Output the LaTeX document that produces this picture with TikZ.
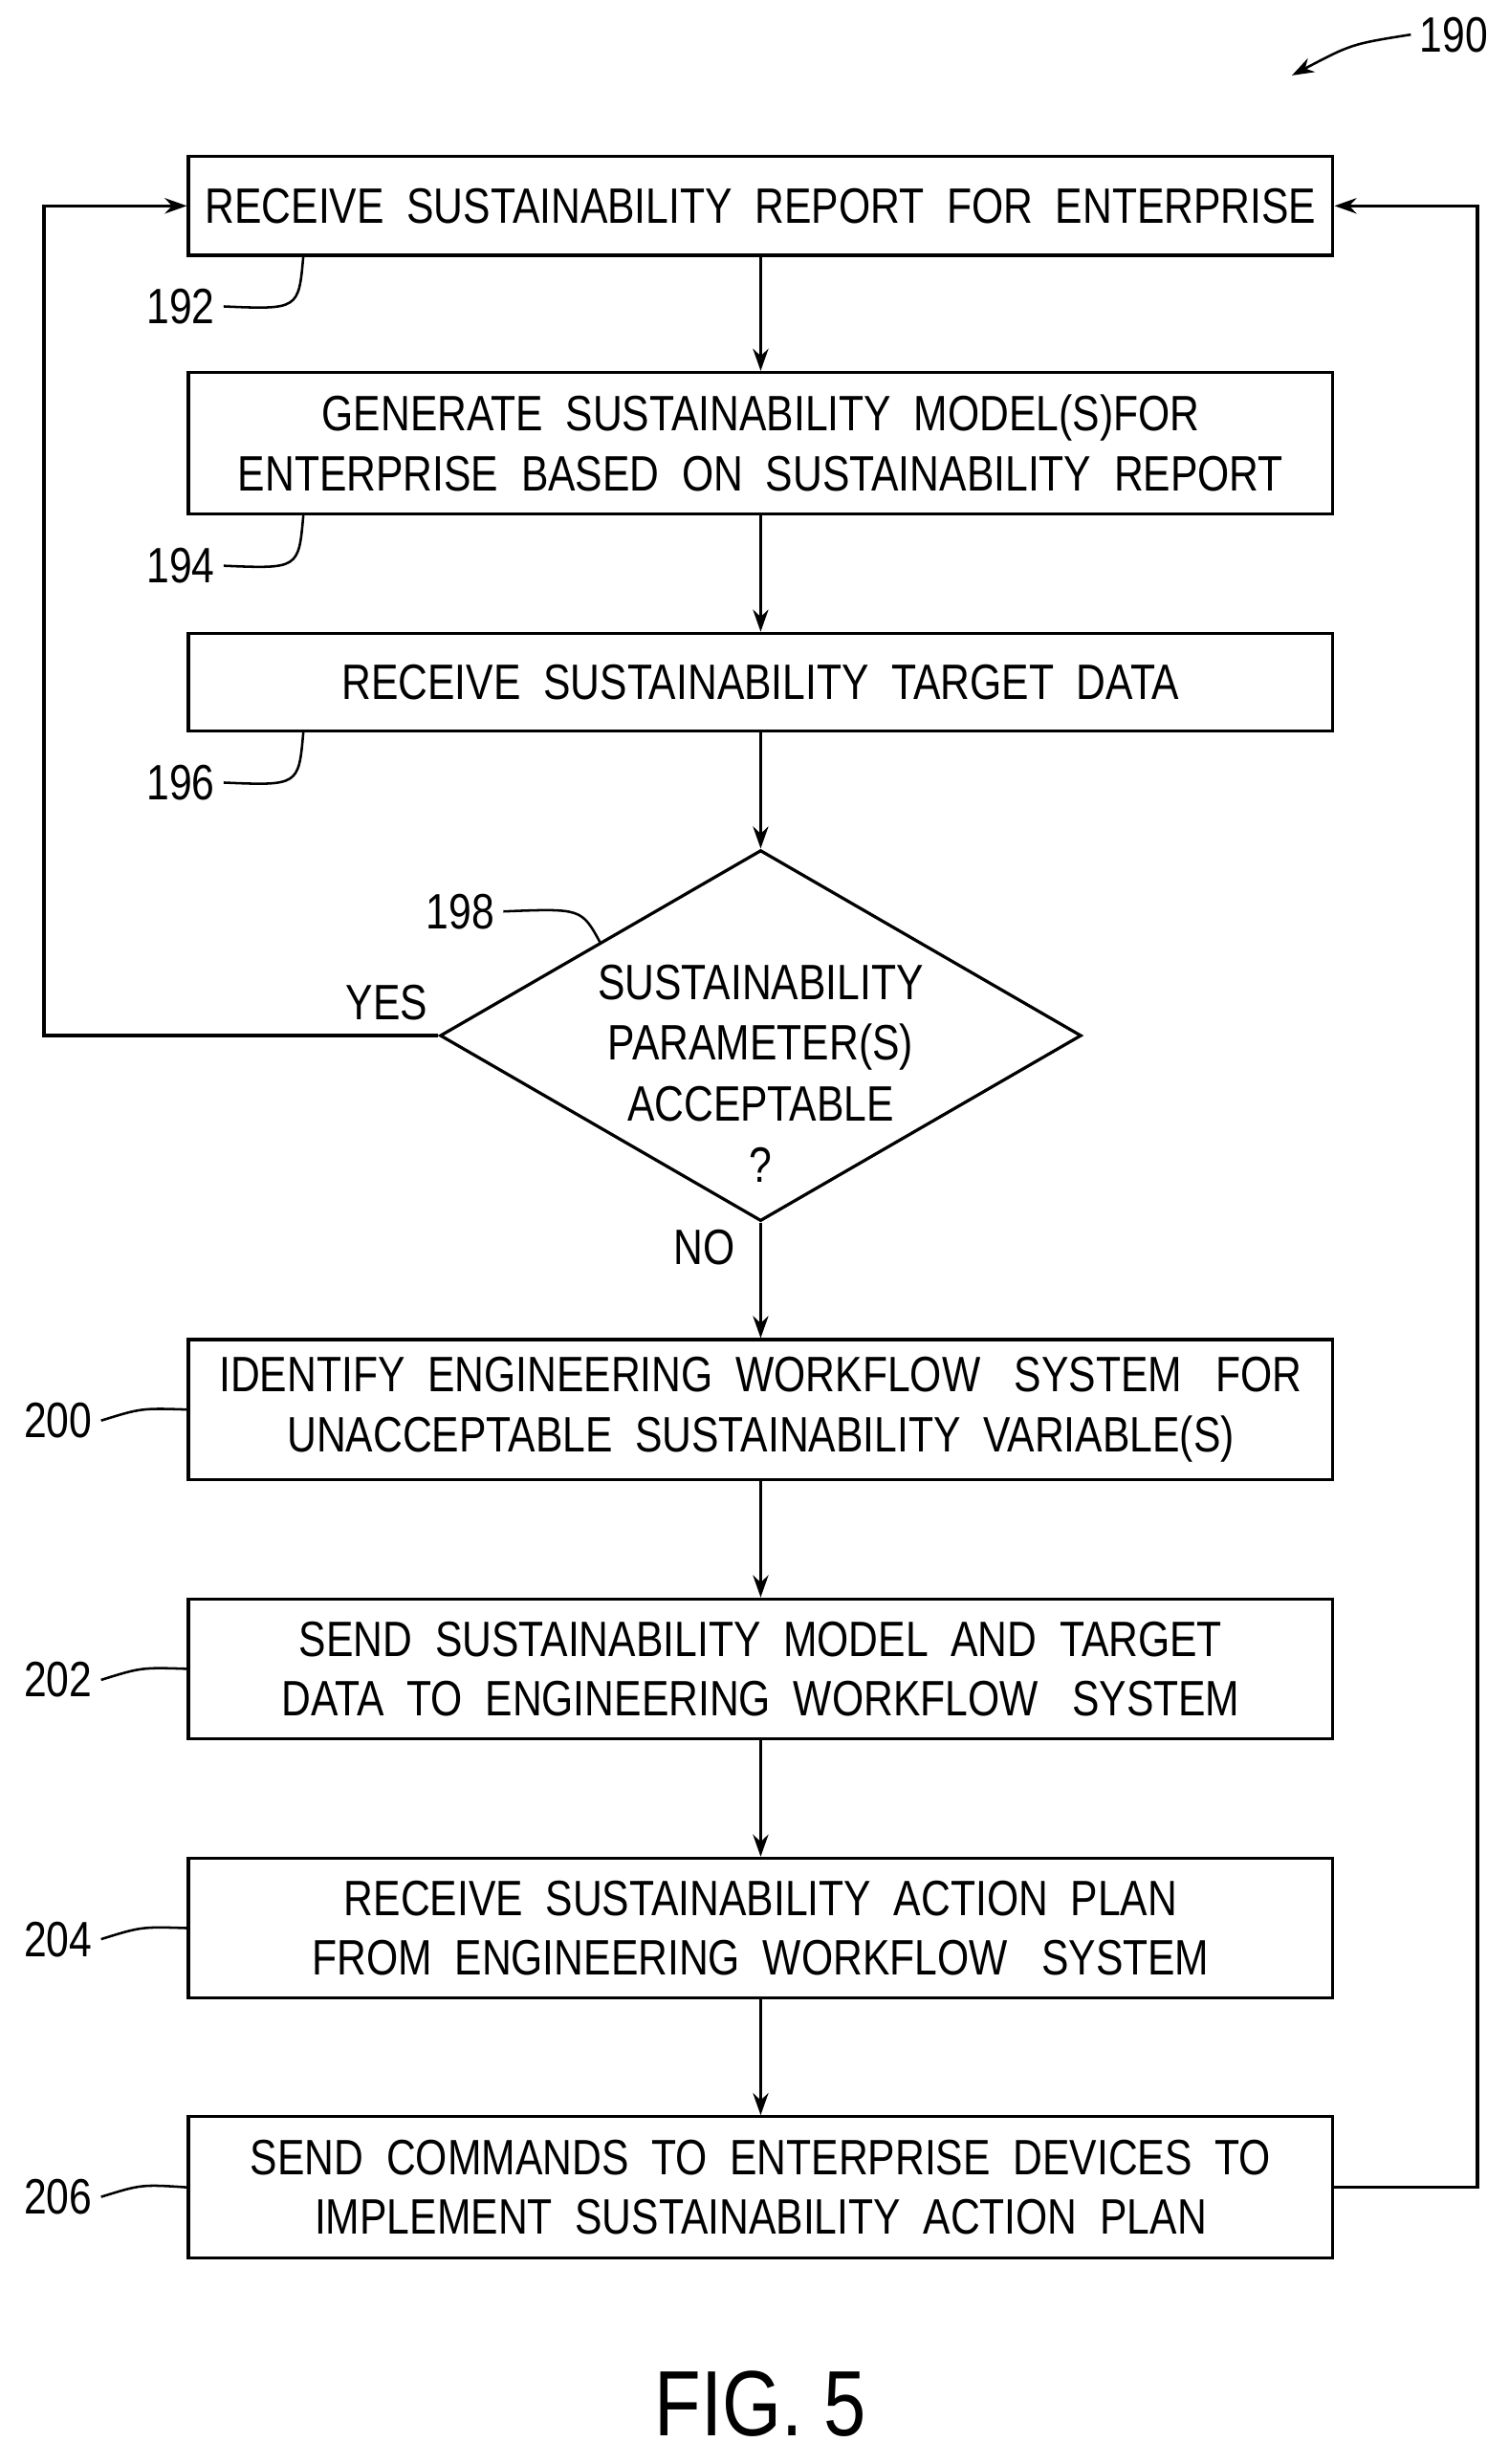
\documentclass[tikz,border=0pt]{standalone}
\usepackage{fontspec}
\setmainfont[FakeStretch=0.82]{Liberation Sans}
\usetikzlibrary{shapes.geometric,arrows.meta}
\begin{document}
\begin{tikzpicture}[x=0.025cm,y=-0.025cm,line width=1.4pt,>={Stealth[length=10pt,width=7pt]}]
	% Define styles for the steps and labels
	\tikzstyle{stepbox} = [draw, rectangle, minimum width=18.2cm, align=center, font=\fontsize{22.5}{27}\selectfont, inner sep=0pt]
	\tikzstyle{ref} = [font=\fontsize{22.5}{27}\selectfont]
	\useasboundingbox (0,0) rectangle (960,1568);

	% Define the steps
	\node[stepbox, minimum height=1.575cm] (s192) at (484,131) {RECEIVE \ SUSTAINABILITY \ REPORT \ FOR \ ENTERPRISE};
	\node[stepbox, minimum height=2.25cm] (s194) at (484,282) {GENERATE \ SUSTAINABILITY \ MODEL(S)FOR\\ENTERPRISE \ BASED \ ON \ SUSTAINABILITY \ REPORT};
	\node[stepbox, minimum height=1.55cm] (s196) at (484,434) {RECEIVE \ SUSTAINABILITY \ TARGET \ DATA};
	\node[draw, diamond, minimum width=10.2cm, minimum height=5.9cm, inner sep=0pt] (s198) at (484,659) {};
	\node[ref, align=center, font=\fontsize{22.5}{27.5}\selectfont] at (484,683) {SUSTAINABILITY\\PARAMETER(S)\\ACCEPTABLE\\?};
	\node[stepbox, minimum height=2.225cm] (s200) at (484,897) {IDENTIFY \ ENGINEERING \ WORKFLOW \ \ SYSTEM \ \ FOR\\UNACCEPTABLE \ SUSTAINABILITY \ VARIABLE(S)};
	\node[stepbox, minimum height=2.225cm] (s202) at (484,1062) {SEND \ SUSTAINABILITY \ MODEL \ AND \ TARGET\\DATA \ TO \ ENGINEERING \ WORKFLOW \ \ SYSTEM};
	\node[stepbox, minimum height=2.225cm] (s204) at (484,1227) {RECEIVE \ SUSTAINABILITY \ ACTION \ PLAN\\FROM \ ENGINEERING \ WORKFLOW \ \ SYSTEM};
	\node[stepbox, minimum height=2.25cm] (s206) at (484,1392) {SEND \ COMMANDS \ TO \ ENTERPRISE \ DEVICES \ TO\\IMPLEMENT \ SUSTAINABILITY \ ACTION \ PLAN};

	% Draw the flow
	\draw[->] (s192) -- (s194);
	\draw[->] (s194) -- (s196);
	\draw[->] (s196) -- (s198);
	\draw[->] (s198) -- (s200);
	\draw[->] (s200) -- (s202);
	\draw[->] (s202) -- (s204);
	\draw[->] (s204) -- (s206);
	\draw[->] (s198.west) -- (28,659) -- (28,131) -- (s192.west);
	\draw[->] (s206.east) -- (940,1392) -- (940,131) -- (s192.east);
	\node[ref] at (246,638) {YES};
	\node[ref] at (448,794) {NO};

	% Place the reference numerals
	\node[ref] (n190) at (925,22) {190};
	\node[ref] (n192) at (115,195) {192};
	\node[ref] (n194) at (115,360) {194};
	\node[ref] (n196) at (115,498) {196};
	\node[ref] (n198) at (293,580) {198};
	\node[ref] (n200) at (37,904) {200};
	\node[ref] (n202) at (37,1069) {202};
	\node[ref] (n204) at (37,1234) {204};
	\node[ref] (n206) at (37,1398) {206};
	\draw[line width=1.1pt,->] (n190.west) .. controls (860,28) .. (822,48);
	\draw[line width=1.1pt] (n192.east) .. controls (190,197) .. (193,163);
	\draw[line width=1.1pt] (n194.east) .. controls (190,362) .. (193,328);
	\draw[line width=1.1pt] (n196.east) .. controls (190,500) .. (193,466);
	\draw[line width=1.1pt] (n198.east) .. controls (370,578) .. (382,600);
	\draw[line width=1.1pt] (n200.east) .. controls (90,896) .. (120,897);
	\draw[line width=1.1pt] (n202.east) .. controls (90,1061) .. (120,1062);
	\draw[line width=1.1pt] (n204.east) .. controls (90,1226) .. (120,1227);
	\draw[line width=1.1pt] (n206.east) .. controls (90,1390) .. (120,1392);
	\node[font=\fontsize{42}{50}\selectfont] at (484,1530) {FIG. 5};
\end{tikzpicture}
\end{document}
